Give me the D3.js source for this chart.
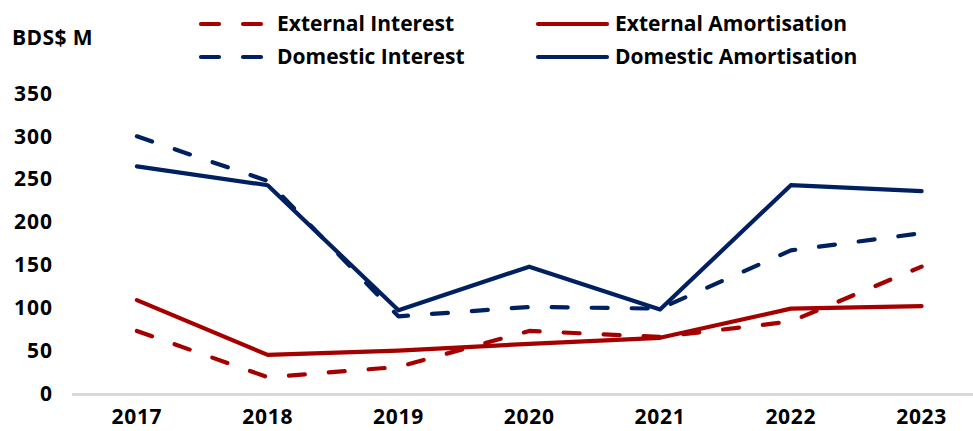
<!DOCTYPE html>
<html>
<head>
<meta charset="utf-8">
<script src="https://cdn.jsdelivr.net/npm/d3@7"></script>
<style>
  html, body { margin: 0; padding: 0; background: #ffffff; }
  svg text { font-family: "Open Sans", "Noto Sans", sans-serif; font-weight: 700; fill: #000; }
</style>
</head>
<body>
<svg id="chart" width="973" height="431"></svg>
<script>
// Years on the category axis
const years = ["2017", "2018", "2019", "2020", "2021", "2022", "2023"];

// Debt service, BDS$ millions
const externalInterest     = [73, 19, 31, 73, 66, 84, 148];
const externalAmortisation = [109, 45, 50, 58, 65, 99, 102];
const domesticInterest     = [300, 248, 90, 101, 99, 167, 187];
const domesticAmortisation = [265, 243, 97, 148, 98, 243, 236];

// Value axis ticks
const yTicks = [0, 50, 100, 150, 200, 250, 300, 350];

const RED = "#a50000";
const NAVY = "#002060";

const series = [
  { name: "External Interest",     values: externalInterest,     color: RED,  dashed: true },
  { name: "External Amortisation", values: externalAmortisation, color: RED,  dashed: false },
  { name: "Domestic Interest",     values: domesticInterest,     color: NAVY, dashed: true },
  { name: "Domestic Amortisation", values: domesticAmortisation, color: NAVY, dashed: false }
];

const svg = d3.select("#chart");

const x = d3.scaleBand().domain(years).range([71.5, 987]);
const y = d3.scaleLinear().domain([0, 350]).range([393.5, 93.5]);
const cx = d => x(d) + x.bandwidth() / 2;

// Category axis baseline
svg.append("line")
  .attr("x1", 72).attr("x2", 973)
  .attr("y1", y(0) + 1).attr("y2", y(0) + 1)
  .attr("stroke", "#d9d9d9").attr("stroke-width", 3);

// Value axis labels (no axis line)
const yAxis = svg.append("g")
  .attr("transform", "translate(52,0)")
  .call(d3.axisLeft(y).tickValues(yTicks).tickSize(0).tickPadding(0));
yAxis.select(".domain").remove();
yAxis.selectAll("text").attr("font-size", 21).attr("fill", "#000")
  .style("font-family", "'Open Sans', sans-serif").style("font-weight", 700)
  .style("letter-spacing", "1px").attr("dx", "1px");

// Category labels
const xAxis = svg.append("g")
  .attr("transform", `translate(0,${y(0)})`)
  .call(d3.axisBottom(x).tickSize(0).tickPadding(16));
xAxis.select(".domain").remove();
xAxis.selectAll("text").attr("font-size", 21).attr("fill", "#000")
  .style("font-family", "'Open Sans', sans-serif").style("font-weight", 700)
  .style("letter-spacing", "0.7px");

// Unit label
svg.append("text").attr("x", 12).attr("y", 45).attr("font-size", 21)
  .style("letter-spacing", "0.4px").text("BDS$ M");

// Lines
const line = d3.line()
  .x((d, i) => cx(years[i]))
  .y(d => y(d));

const drawOrder = [2, 3, 0, 1];
drawOrder.forEach(k => {
  const s = series[k];
  svg.append("path")
    .datum(s.values)
    .attr("d", line)
    .attr("fill", "none")
    .attr("stroke", s.color)
    .attr("stroke-width", 4.2)
    .attr("stroke-linejoin", "round")
    .attr("stroke-linecap", "round")
    .attr("stroke-dasharray", s.dashed ? "16,24" : null);
});

// Legend: two columns, two rows
const legendPos = [
  { x1: 201, x2: 262, y: 24, tx: 277 },
  { x1: 538, x2: 607, y: 24, tx: 615 },
  { x1: 201, x2: 262, y: 57, tx: 277 },
  { x1: 538, x2: 607, y: 57, tx: 615 }
];
series.forEach((s, i) => {
  const p = legendPos[i];
  svg.append("line")
    .attr("x1", p.x1).attr("x2", p.x2).attr("y1", p.y).attr("y2", p.y)
    .attr("stroke", s.color).attr("stroke-width", 4.2)
    .attr("stroke-linecap", "round")
    .attr("stroke-dasharray", s.dashed ? "18,24" : null);
  svg.append("text")
    .attr("x", p.tx).attr("y", p.y).attr("dy", "0.35em")
    .attr("font-size", 21).text(s.name);
});
</script>
</body>
</html>
